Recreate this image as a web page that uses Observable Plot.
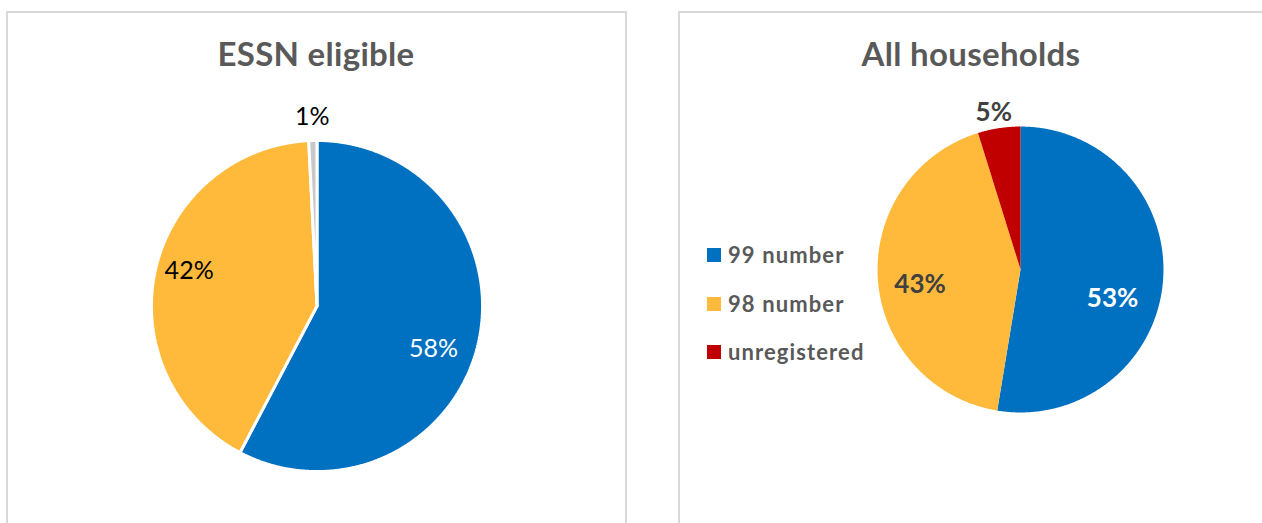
<!DOCTYPE html>
<html><head><meta charset="utf-8">
<script src="https://cdn.jsdelivr.net/npm/d3@7"></script>
<script src="https://cdn.jsdelivr.net/npm/@observablehq/plot@0.6"></script>
<style>
body{margin:0;width:1262px;height:523px;overflow:hidden;background:#fff;font-family:Lato,"Open Sans",sans-serif;position:relative}
.panel{position:absolute;border:2px solid #d9d9d9;box-sizing:border-box;background:#fff}
.title{position:absolute;font-weight:700;font-size:33px;line-height:33px;letter-spacing:0.3px;color:#595959;text-align:center;white-space:nowrap;transform:translateX(-50%)}
.pie{position:absolute}
.lrow{position:absolute;display:flex;align-items:center;height:22px;font-weight:700;font-size:22px;line-height:22px;letter-spacing:1.1px;color:#595959;white-space:nowrap}
.lrow span.sw{display:inline-block;width:14px;height:14px;margin-right:7px}
</style></head><body>
<div class="panel" style="left:6px;top:11px;width:621px;height:530px"></div>
<div class="panel" style="left:678px;top:11px;width:600px;height:530px"></div>
<div id="root"></div>
<script>
// ---- data ----
const categories = ["99 number", "98 number", "unregistered"];
const titles = ["ESSN eligible", "All households"];
const essnValues = [57.7, 41.5, 0.8];
const allValues = [52.6, 42.6, 4.8];
const essnColors = ["#0070C0", "#FFBA3C", "#C8C8C8"];
const allColors = ["#0070C0", "#FFBA3C", "#C00000"];
const legendColors = ["#0070C0", "#FFBA3C", "#C00000"];

const root = document.getElementById("root");

function pie({values, colors, cx, cy, r, stroke, strokeWidth, labelFill, labelWeight, labelSize, labelSpacing, labelR, labelDA}) {
  const half = r * 1.35;
  const S = Math.round(half * 2);
  const h = half / r;
  const arcs = d3.pie().sort(null).value(d => d)(values);
  const pts = [];
  arcs.forEach((a, i) => {
    const key = categories[i];
    pts.push({key, x: 0, y: 0});
    const n = Math.max(2, Math.ceil((a.endAngle - a.startAngle) / 0.005));
    for (let k = 0; k <= n; k++) {
      const t = a.startAngle + (a.endAngle - a.startAngle) * k / n;
      pts.push({key, x: Math.sin(t), y: Math.cos(t)});
    }
    pts.push({key, x: 0, y: 0});
  });
  const labels = arcs.map((a, i) => {
    const m = (a.startAngle + a.endAngle) / 2 + labelDA[i] * Math.PI / 180;
    const rr = labelR[i];
    return {key: categories[i], x: rr * Math.sin(m), y: rr * Math.cos(m),
      text: Math.round(values[i]) + "%", fill: labelFill[i]};
  });
  const plot = Plot.plot({
    width: S, height: S, margin: 0,
    style: {background: "transparent", overflow: "visible"},
    x: {domain: [-h, h], axis: null},
    y: {domain: [-h, h], axis: null},
    color: {domain: categories, range: colors},
    marks: [
      Plot.line(pts, {x: "x", y: "y", z: "key", fill: "key", stroke: stroke, strokeWidth: strokeWidth, strokeLinejoin: "miter"}),
      Plot.text(labels, {x: "x", y: "y", text: "text", fill: d => d.fill, fontSize: labelSize, fontWeight: labelWeight, fontFamily: "Lato, sans-serif", letterSpacing: labelSpacing})
    ]
  });
  plot.classList.add("pie");
  plot.style.left = (cx - S / 2) + "px";
  plot.style.top = (cy - S / 2) + "px";
  plot.style.position = "absolute";
  root.appendChild(plot);
}

pie({values: essnValues, colors: essnColors, cx: 316.5, cy: 305.5, r: 165.5, stroke: "white", strokeWidth: 3,
  labelFill: ["#ffffff", "#000000", "#000000"], labelWeight: 400, labelSize: 25, labelSpacing: "0.4px",
  labelR: [0.75, 0.80, 1.14], labelDA: [6.4, 2.7, 0]});
pie({values: allValues, colors: allColors, cx: 1020, cy: 269, r: 143, stroke: "none", strokeWidth: 0,
  labelFill: ["#ffffff", "#404040", "#404040"], labelWeight: 700, labelSize: 26, labelSpacing: "0.5px",
  labelR: [0.675, 0.71, 1.115], labelDA: [12.8, -4.5, -1]});

// titles
[[316, titles[0]], [971, titles[1]]].forEach(([x, t]) => {
  const d = document.createElement("div");
  d.className = "title"; d.textContent = t;
  d.style.left = x + "px"; d.style.top = "37px";
  root.appendChild(d);
});

// legend
categories.forEach((c, i) => {
  const row = document.createElement("div");
  row.className = "lrow";
  row.style.left = "707px";
  row.style.top = (244 + i * 48.5) + "px";
  const sw = document.createElement("span");
  sw.className = "sw"; sw.style.background = legendColors[i];
  row.appendChild(sw);
  row.appendChild(document.createTextNode(c));
  root.appendChild(row);
});
</script>
</body></html>
